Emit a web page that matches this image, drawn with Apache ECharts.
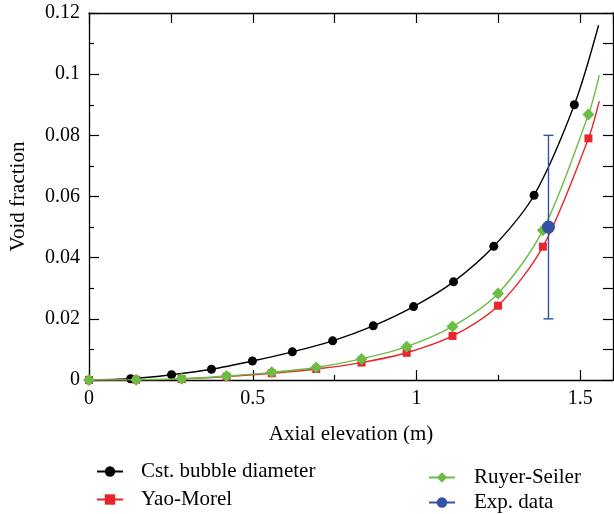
<!DOCTYPE html>
<html>
<head>
<meta charset="utf-8">
<script src="https://cdn.jsdelivr.net/npm/echarts@6/dist/echarts.min.js"></script>
<style>
html,body{margin:0;padding:0;background:#fff;}
#chart{width:614px;height:514px;}
</style>
</head>
<body>
<div id="chart"></div>
<script>
// ---- data ----
const cstX = [0, 0.127, 0.252, 0.374, 0.499, 0.621, 0.744, 0.868, 0.991, 1.113, 1.236, 1.359, 1.482];
const cstY = [0, 0.0004, 0.0017, 0.0035, 0.0062, 0.0092, 0.0128, 0.0177, 0.0240, 0.0321, 0.0437, 0.0604, 0.0900];
const cstEnd = [1.556, 0.1160];

const modelX = [0, 0.144, 0.283, 0.420, 0.558, 0.694, 0.832, 0.970, 1.110, 1.249, 1.386, 1.525];
const yaoY   = [0, 0.0001, 0.0003, 0.0011, 0.0022, 0.0036, 0.0057, 0.0089, 0.0144, 0.0243, 0.0436, 0.0790];
const yaoEnd = [1.558, 0.0912];
const ruyerY = [0, 0.0001, 0.0004, 0.0013, 0.0025, 0.0041, 0.0069, 0.0109, 0.0175, 0.0283, 0.0490, 0.0868];
const ruyerEnd = [1.558, 0.0997];

const expX = [1.403];
const expY = [0.050];
const expLow = [0.020];
const expHigh = [0.080];

const xTicks = [0, 0.5, 1, 1.5];
const yTicks = [0, 0.02, 0.04, 0.06, 0.08, 0.1, 0.12];

const names = ['Cst. bubble diameter', 'Yao-Morel', 'Ruyer-Seiler', 'Exp. data'];
const colors = ['#000000', '#e8252b', '#6cbd45', '#3352a3'];

function pts(xs, ys, end) {
  const d = xs.map((x, i) => [x, ys[i]]);
  if (end) d.push({ value: end, symbol: 'none' });
  return d;
}

const FONT = 'Liberation Serif';
const chart = echarts.init(document.getElementById('chart'), null, { renderer: 'canvas' });

const axisLineStyle = { color: '#000', width: 1.3 };
const tickStyle = { color: '#000', width: 1.2 };

function legendAt(name, left, top, pad) {
  return {
    data: [name], orient: 'vertical', left: left, top: top,
    itemWidth: 26, itemHeight: 13,
    textStyle: { fontFamily: FONT, fontSize: 21, color: '#000', padding: [0, 0, 0, pad] }
  };
}

const option = {
  animation: false,
  textStyle: { fontFamily: FONT, color: '#000' },
  grid: { left: 89, right: 1, top: 13, bottom: 134, containLabel: false },
  xAxis: [
    {
      type: 'value', position: 'bottom', min: 0, max: 1.6, interval: 0.5,
      name: 'Axial elevation (m)', nameLocation: 'middle', nameGap: 44,
      nameTextStyle: { fontFamily: FONT, fontSize: 21, color: '#000' },
      axisLine: { show: true, onZero: false, lineStyle: axisLineStyle },
      axisTick: { show: true, inside: true, length: 10, lineStyle: tickStyle },
      minorTick: { show: true, splitNumber: 2, length: 5, lineStyle: tickStyle },
      axisLabel: {
        fontFamily: FONT, fontSize: 20, color: '#000', margin: 9, showMaxLabel: false,
        formatter: v => (xTicks.some(t => Math.abs(t - v) < 1e-9) ? String(v) : '')
      },
      splitLine: { show: false }
    },
    {
      type: 'value', position: 'top', min: 0, max: 1.6, interval: 0.25,
      axisLine: { show: true, onZero: false, lineStyle: axisLineStyle },
      axisTick: { show: true, inside: true, length: 10, lineStyle: tickStyle },
      axisLabel: { show: false },
      splitLine: { show: false }
    }
  ],
  yAxis: [
    {
      type: 'value', position: 'left', min: 0, max: 0.12, interval: 0.02,
      name: 'Void fraction', nameLocation: 'middle', nameGap: 60, nameRotate: 90,
      nameTextStyle: { fontFamily: FONT, fontSize: 21, color: '#000' },
      axisLine: { show: true, onZero: false, lineStyle: axisLineStyle },
      axisTick: { show: true, inside: true, length: 10, lineStyle: tickStyle },
      minorTick: { show: true, splitNumber: 2, length: 5, lineStyle: tickStyle },
      axisLabel: {
        fontFamily: FONT, fontSize: 20, color: '#000', margin: 9,
        formatter: v => {
          const t = yTicks.find(t => Math.abs(t - v) < 1e-9);
          return t === undefined ? '' : String(t);
        }
      },
      splitLine: { show: false }
    },
    {
      type: 'value', position: 'right', min: 0, max: 0.12, interval: 0.01,
      axisLine: { show: true, onZero: false, lineStyle: axisLineStyle },
      axisTick: { show: true, inside: true, length: 10, lineStyle: tickStyle },
      axisLabel: { show: false },
      splitLine: { show: false }
    }
  ],
  legend: [
    legendAt(names[0], 91, 456, 13),
    legendAt(names[1], 91, 484, 13),
    legendAt(names[2], 423, 462, 14),
    legendAt(names[3], 423, 487, 14)
  ],
  series: [
    {
      name: names[0], type: 'line', smooth: 0.3,
      data: pts(cstX, cstY, cstEnd),
      symbol: 'circle', symbolSize: 9, showAllSymbol: true,
      lineStyle: { color: colors[0], width: 1.4 }, itemStyle: { color: colors[0] }, z: 3
    },
    {
      name: names[1], type: 'line', smooth: 0.3,
      data: pts(modelX, yaoY, yaoEnd),
      symbol: 'rect', symbolSize: 8, showAllSymbol: true,
      lineStyle: { color: colors[1], width: 1.4 }, itemStyle: { color: colors[1] }, z: 3
    },
    {
      name: names[2], type: 'line', smooth: 0.3,
      data: pts(modelX, ruyerY, ruyerEnd),
      symbol: 'diamond', symbolSize: 12, showAllSymbol: true,
      lineStyle: { color: colors[2], width: 1.4 }, itemStyle: { color: colors[2] }, z: 4
    },
    {
      name: 'errbar', type: 'custom',
      data: expX.map((x, i) => [x, expLow[i], expHigh[i]]),
      renderItem: function (params, api) {
        const x = api.value(0);
        const lo = api.coord([x, api.value(1)]);
        const hi = api.coord([x, api.value(2)]);
        const w = 5;
        const st = { stroke: colors[3], lineWidth: 1.4 };
        return {
          type: 'group',
          children: [
            { type: 'line', shape: { x1: lo[0], y1: lo[1], x2: hi[0], y2: hi[1] }, style: st },
            { type: 'line', shape: { x1: lo[0] - w, y1: lo[1], x2: lo[0] + w, y2: lo[1] }, style: st },
            { type: 'line', shape: { x1: hi[0] - w, y1: hi[1], x2: hi[0] + w, y2: hi[1] }, style: st }
          ]
        };
      },
      z: 5
    },
    {
      name: names[3], type: 'line',
      data: expX.map((x, i) => [x, expY[i]]),
      symbol: 'circle', symbolSize: 13,
      lineStyle: { color: colors[3], width: 1.4 }, itemStyle: { color: colors[3] }, z: 6
    }
  ]
};
chart.setOption(option);
</script>
</body>
</html>
